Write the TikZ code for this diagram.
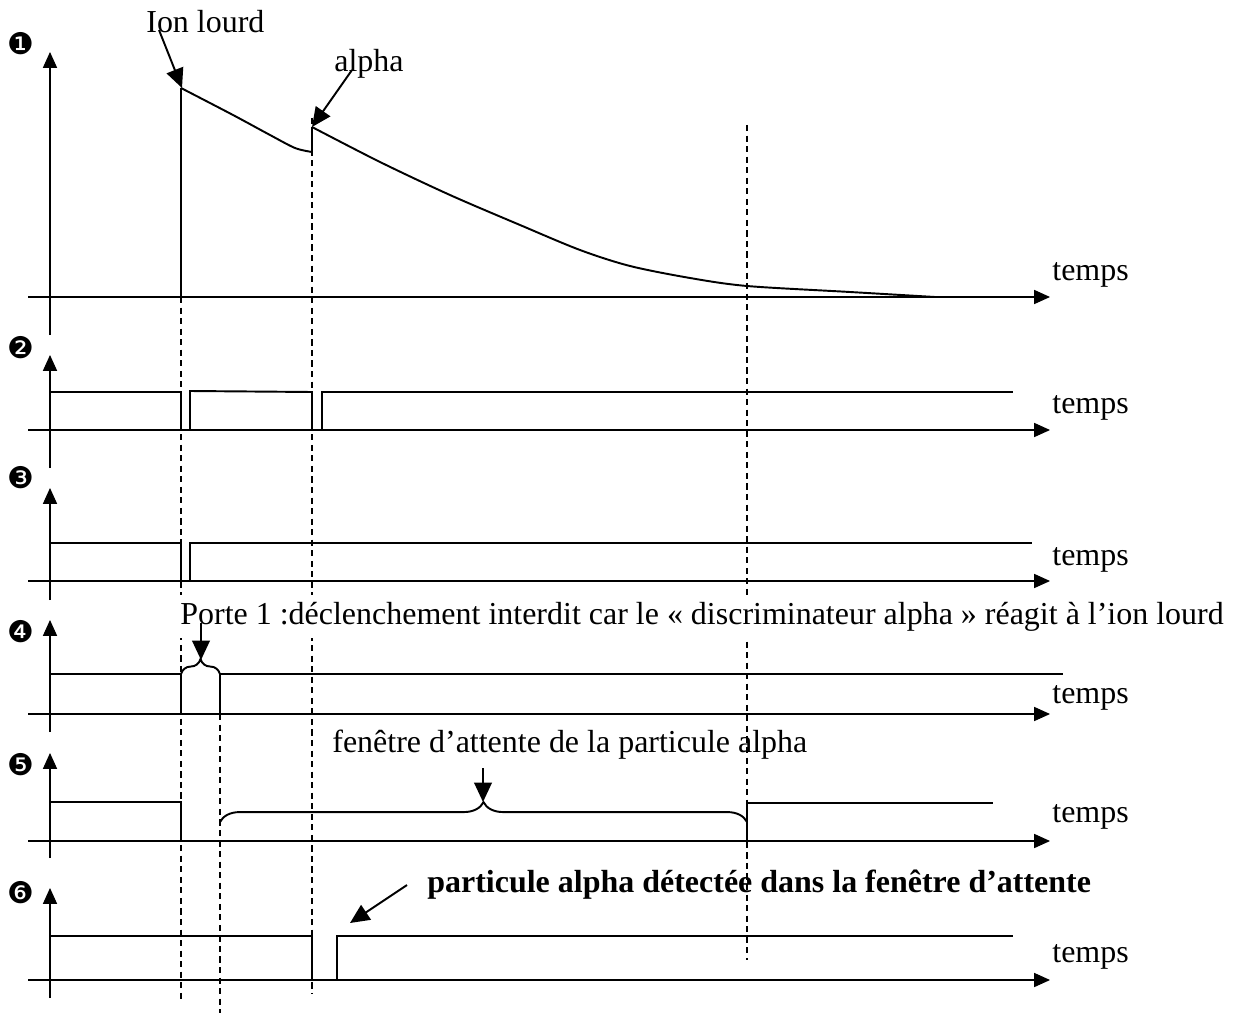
\documentclass[tikz,border=0pt]{standalone}
\usepackage{fontspec}
\setmainfont{Liberation Serif}
\newfontfamily\dingfont{DejaVu Sans}
\usetikzlibrary{arrows.meta,decorations.pathreplacing}

\begin{document}
\begin{tikzpicture}[x=0.02cm,y=-0.02cm,>={Triangle[length=11pt,width=10pt]},
 font=\fontsize{18.2}{22}\selectfont,
 ax/.style={line width=0.6pt,-{Triangle[length=9pt,width=8pt]}},
 sig/.style={line width=1.1pt},
 vl/.style={line width=1.2pt,dash pattern=on 3.5pt off 2.5pt},
 num/.style={font=\dingfont\fontsize{17}{20}\selectfont,inner sep=0pt},
 txt/.style={anchor=base west,inner sep=0pt},
 br/.style={line width=1.1pt,decorate,decoration={brace,amplitude=#1}}]
\useasboundingbox (0,0) rectangle (1239,1013);
\node[num] (m1) at (21,44) {❶};
\node[num] (m2) at (21,348) {❷};
\node[num] (m3) at (21,478) {❸};
\node[num] (m4) at (21,632) {❹};
\node[num] (m5) at (21,765) {❺};
\node[num] (m6) at (21,893) {❻};
\draw[ax] (28,297) -- (1050,297);
\draw[ax] (50,335) -- (50,52);
\draw[ax] (28,430) -- (1050,430);
\draw[ax] (50,468) -- (50,355);
\draw[ax] (28,581) -- (1050,581);
\draw[ax] (50,600) -- (50,488);
\draw[ax] (28,714) -- (1050,714);
\draw[ax] (50,732) -- (50,620);
\draw[ax] (28,841) -- (1050,841);
\draw[ax] (50,858) -- (50,753);
\draw[ax] (28,980) -- (1050,980);
\draw[ax] (50,998) -- (50,888);
\node[txt] (t1) at (1052,280) {temps};
\node[txt] (t2) at (1052,413) {temps};
\node[txt] (t3) at (1052,565) {temps};
\node[txt] (t4) at (1052,703) {temps};
\node[txt] (t5) at (1052,822) {temps};
\node[txt] (t6) at (1052,962) {temps};
\draw[sig] (28,297) -- (181,297) -- (181,88)
 plot[smooth] coordinates {(181,88) (233,115) (270,135) (295,148) (312,152)}
 -- (312,127)
 plot[smooth] coordinates {(312,127) (380,162) (450,195) (520,225) (580,250) (630,266) (690,278) (747,286) (850,292) (935,297)};
\draw[sig] (50,392) -- (181,392) -- (181,430);
\draw[sig] (190,430) -- (190,391) -- (312,392) -- (312,430);
\draw[sig] (322,430) -- (322,392) -- (1013,392);
\draw[sig] (50,543) -- (181,543) -- (181,581);
\draw[sig] (190,581) -- (190,543) -- (1032,543);
\draw[sig] (50,674) -- (181,674) -- (181,714);
\draw[sig] (220,714) -- (220,674) -- (1063,674);
\draw[br=8.5pt] (181,674) -- (220,674);
\draw[sig] (50,802) -- (181,802) -- (181,841);
\draw[br=11.3pt] (220,822) -- (747,822);
\draw[sig] (747,841) -- (747,803) -- (993,803);
\draw[sig] (50,936) -- (312,936) -- (312,980);
\draw[sig] (337,980) -- (337,936) -- (1013,936);
\draw[vl] (181,297) -- (181,1000);
\draw[vl] (220,714) -- (220,1013);
\draw[vl] (312,118) -- (312,993);
\draw[vl] (747,125) -- (747,960);
\node[txt] (ion) at (146,33) {Ion lourd};
\node[txt] (alph) at (334,72) {alpha};
\node[txt,fill=white,inner ysep=4pt] (porte) at (180,624) {Porte 1 :déclenchement interdit car le « discriminateur alpha » réagit à l’ion lourd};
\node[txt] (fen) at (332,752) {fenêtre d’attente de la particule alpha};
\node[txt,font=\fontsize{18.2}{22}\selectfont\bfseries] (det) at (427,892) {particule alpha détectée dans la fenêtre d’attente};
\coordinate (ionA) at (159,30);
\coordinate (ionB) at (182,88);
\coordinate (alphA) at (352,70);
\coordinate (alphB) at (312,127);
\coordinate (porteA) at (201,623);
\coordinate (porteB) at (201,660);
\coordinate (fenA) at (483,768);
\coordinate (fenB) at (483,802);
\coordinate (detA) at (407,885);
\coordinate (detB) at (350,923);
\draw[->,line width=1.1pt] (ionA) -- (ionB);
\draw[->,line width=1.1pt] (alphA) -- (alphB);
\draw[->,line width=1.1pt] (porteA) -- (porteB);
\draw[->,line width=1.1pt] (fenA) -- (fenB);
\draw[->,line width=1.1pt] (detA) -- (detB);
\end{tikzpicture}
\end{document}
